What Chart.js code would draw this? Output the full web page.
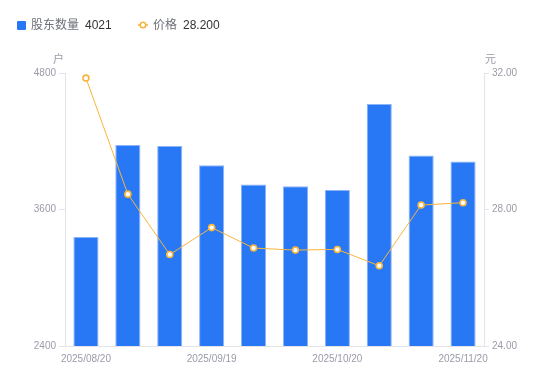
<!DOCTYPE html>
<html>
<head>
<meta charset="utf-8">
<script src="https://cdn.jsdelivr.net/npm/chart.js@4/dist/chart.umd.min.js"></script>
<style>
  html, body { margin: 0; padding: 0; background: #fff; }
  #wrap { position: relative; width: 550px; height: 381px; font-family: "Liberation Sans", "Noto Sans CJK SC", sans-serif; }
  canvas { position: absolute; left: 0; top: 0; }
  .leg { position: absolute; top: 17px; font-size: 12px; line-height: 16px; white-space: nowrap; }
  .leg .name { color: #6e7079; }
  .leg .val { color: #333; margin-left: 6px; }
  .unit { position: absolute; top: 50px; font-size: 11px; color: #9a9ca8; }
</style>
</head>
<body>
<div id="wrap">
  <canvas id="c" width="550" height="381"></canvas>
  <div class="leg" style="left:17px;">
    <span style="display:inline-block;width:9px;height:9px;background:#2878f6;border-radius:1px;vertical-align:-1px;margin-right:5px;"></span><span class="name">股东数量</span><span class="val">4021</span>
  </div>
  <div class="leg" style="left:138px;">
    <svg width="10" height="10" style="vertical-align:-1px;margin-right:5px;"><line x1="0" y1="5" x2="10" y2="5" stroke="#f9b43c" stroke-width="1.5"/><circle cx="5" cy="5" r="2.8" fill="#fff" stroke="#f9b43c" stroke-width="1.6"/></svg><span class="name">价格</span><span class="val">28.200</span>
  </div>
  <div class="unit" style="left:53px;">户</div>
  <div class="unit" style="left:485px;">元</div>
</div>
<script>
const categories = ["2025/08/20","2025/08/29","2025/09/10","2025/09/19","2025/09/30","2025/10/10","2025/10/20","2025/10/31","2025/11/10","2025/11/20"];
const holders = [3358, 4167, 4158, 3990, 3820, 3805, 3771, 4527, 4075, 4021];
const prices = [31.85, 28.45, 26.68, 27.47, 26.87, 26.81, 26.83, 26.35, 28.13, 28.20];
const leftTicks = [2400, 3600, 4800];
const rightTicks = [24, 28, 32];
const shownLabelIdx = [0, 3, 6, 9];

const tickFont = { family: "'Liberation Sans', 'Noto Sans CJK SC', sans-serif", size: 10 };
const tickColor = '#9a9ca8';
const axisLine = '#e3e4e8';

new Chart(document.getElementById('c'), {
  data: {
    labels: categories,
    datasets: [
      {
        type: 'line', label: '价格', data: prices, yAxisID: 'y1', order: 0,
        borderColor: '#f9b43c', borderWidth: 1, tension: 0,
        pointRadius: 3, pointBorderWidth: 1.6, pointBackgroundColor: '#fff', pointBorderColor: '#f9b43c'
      },
      {
        type: 'bar', label: '股东数量', data: holders, yAxisID: 'y', order: 1,
        backgroundColor: '#2878f6', borderColor: '#8db4f8', borderWidth: {top:1,left:1,right:1,bottom:0}, borderSkipped: 'bottom',
        barPercentage: 0.6, categoryPercentage: 1.0
      }
    ]
  },
  options: {
    responsive: false, animation: false, devicePixelRatio: 1,
    layout: { padding: { top: 73, left: 0, right: 0, bottom: 0 } },
    plugins: { legend: { display: false }, tooltip: { enabled: false } },
    scales: {
      x: {
        offset: true,
        grid: { display: false, drawTicks: false },
        border: { display: true, color: axisLine, width: 1 },
        ticks: {
          autoSkip: false, maxRotation: 0, padding: 7, color: tickColor, font: tickFont,
          callback: function(v, i) { return shownLabelIdx.includes(i) ? categories[i] : ''; }
        },
        afterFit: s => { s.height = 35; }
      },
      y: {
        position: 'left', min: leftTicks[0], max: leftTicks[leftTicks.length - 1],
        afterBuildTicks: s => { s.ticks = leftTicks.map(v => ({ value: v })); },
        grid: { drawOnChartArea: false, drawTicks: true, tickLength: 6, color: axisLine },
        border: { display: true, color: axisLine, width: 1 },
        ticks: { padding: 3, color: tickColor, font: tickFont, callback: v => String(v) },
        afterFit: s => { s.width = 65; }
      },
      y1: {
        position: 'right', min: rightTicks[0], max: rightTicks[rightTicks.length - 1],
        afterBuildTicks: s => { s.ticks = rightTicks.map(v => ({ value: v })); },
        grid: { drawOnChartArea: false, drawTicks: true, tickLength: 5, color: axisLine },
        border: { display: true, color: axisLine, width: 1 },
        ticks: { padding: 3, color: tickColor, font: tickFont, callback: v => v.toFixed(2) },
        afterFit: s => { s.width = 66; }
      }
    }
  }
});
</script>
</body>
</html>
